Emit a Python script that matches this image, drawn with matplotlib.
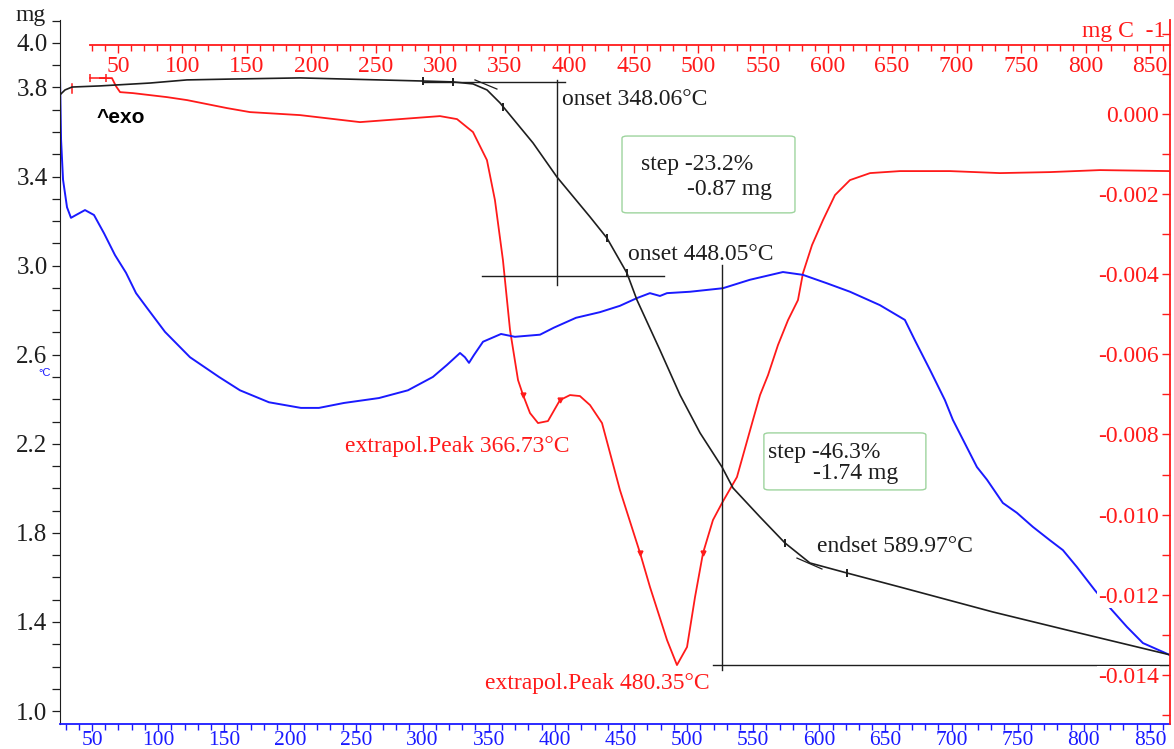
import numpy as np
import matplotlib
matplotlib.use("Agg")
import matplotlib.pyplot as plt
from matplotlib.patches import FancyBboxPatch
from matplotlib.ticker import MultipleLocator, FixedLocator

plt.rcParams['font.family'] = ['Liberation Serif', 'DejaVu Serif']

# TG curve: temperature (C) vs mass (mg)
tg_temp = [25.8, 29.6, 34.9, 56.0, 93.9, 121.8, 156.6, 207.3, 300.3, 323.0, 338.1,
           348.7, 358.5, 383.5, 401.6, 426.6, 439.4, 454.5, 462.1, 479.5, 494.7,
           509.8, 526.4, 534.7, 555.1, 574.0, 592.9, 620.9, 661.0, 731.3, 787.2, 865.5]
tg_mass = [3.767, 3.789, 3.802, 3.807, 3.820, 3.834, 3.838, 3.843, 3.829, 3.825, 3.816,
           3.789, 3.731, 3.551, 3.398, 3.219, 3.124, 2.967, 2.846, 2.621, 2.419,
           2.249, 2.096, 2.002, 1.872, 1.755, 1.665, 1.620, 1.557, 1.445, 1.364, 1.252]
tg_marks = [300.3, 323.0, 361.0, 439.4, 454.5, 574.0, 620.9]

# DTG curve: temperature (C) vs mg/C
dtg_temp = [36.0, 45.3, 48.4, 51.6, 61.6, 88.0, 103.5, 134.5, 152.3, 191.1, 237.6,
            268.6, 299.6, 312.8, 325.2, 336.0, 342.2, 348.4, 353.9, 360.1, 364.0,
            369.4, 375.6, 383.3, 392.6, 400.4, 408.1, 415.9, 425.2, 439.1, 454.7,
            462.4, 475.6, 483.3, 491.1, 497.3, 503.5, 511.2, 518.2, 529.8, 542.2,
            547.7, 553.9, 561.6, 569.4, 577.1, 581.0, 588.0, 596.5, 605.8, 617.4,
            633.0, 656.2, 695.0, 733.7, 772.5, 811.2, 865.5]
dtg_rate = [0.000899, 0.000899, 0.000699, 0.000549, 0.000524, 0.000424, 0.000350,
            0.000150, 0.000050, -0.000025, -0.000200, -0.000125, -0.000050,
            -0.000125, -0.000449, -0.001149, -0.002147, -0.003645, -0.005393,
            -0.006642, -0.007016, -0.007466, -0.007715, -0.007665, -0.007141,
            -0.007016, -0.007041, -0.007266, -0.007715, -0.009388, -0.010961,
            -0.011810, -0.013134, -0.013758, -0.013308, -0.012060, -0.010961,
            -0.010137, -0.009713, -0.009064, -0.007640, -0.007016, -0.006517,
            -0.005768, -0.005144, -0.004644, -0.003970, -0.003271, -0.002647,
            -0.002022, -0.001648, -0.001473, -0.001423, -0.001423, -0.001473,
            -0.001448, -0.001398, -0.001423]
dtg_marks = [364.0, 392.6, 454.7, 503.5]

# DTA signal (relative units)
dta_temp = [25.8, 26.6, 28.1, 31.1, 34.1, 37.9, 44.7, 51.5, 59.1, 67.4, 75.7, 83.3,
            91.6, 105.2, 124.1, 146.0, 161.9, 183.8, 208.0, 221.6, 240.5, 267.0,
            288.9, 307.8, 318.4, 328.3, 332.0, 335.1, 338.8, 345.7, 359.3, 369.8,
            388.8, 399.3, 416.0, 434.1, 449.2, 462.1, 471.9, 479.5, 484.8, 502.2,
            527.1, 547.5, 572.5, 587.6, 605.8, 623.2, 645.8, 664.7, 672.3, 683.7,
            695.0, 701.0, 719.2, 726.8, 738.8, 749.4, 761.5, 774.4, 784.2, 794.8,
            808.4, 816.0, 832.6, 844.7, 865.1]
dta_sig = [92.2, 83.0, 77.3, 73.4, 71.9, 72.3, 73.0, 72.3, 69.7, 66.6, 64.1, 61.2,
           59.1, 55.7, 52.1, 49.3, 47.4, 45.7, 44.9, 44.9, 45.6, 46.3,
           47.4, 49.3, 51.0, 52.7, 52.1, 51.3, 52.4, 54.3, 55.4, 55.0,
           55.3, 56.3, 57.7, 58.5, 59.4, 60.5, 61.2, 60.8, 61.2, 61.4,
           61.9, 63.1, 64.2, 63.8, 62.6, 61.4, 59.5, 57.4, 54.5, 50.3,
           46.0, 43.2, 36.5, 34.7, 31.4, 30.0, 28.0, 26.1, 24.7, 22.3,
           19.0, 17.3, 13.8, 11.5, 9.8]

left_ticks = [4.0, 3.8, 3.4, 3.0, 2.6, 2.2, 1.8, 1.4, 1.0]
right_ticks = [0.002, 0.000, -0.002, -0.004, -0.006, -0.008, -0.010, -0.012, -0.014]

RED = '#ff1a1a'
BLUE = '#1a1aff'
BLACK = '#1e1e1e'
FS = 17

W, H = 1174, 749
fig = plt.figure(figsize=(W / 100, H / 100), dpi=100)
x0, x1, yb, yt = 60, 1170, 724, 20
rect = [x0 / W, (H - yb) / H, (x1 - x0) / W, (yb - yt) / H]

# DTG on its own temperature scale (top red axis)
ax_dtg = fig.add_axes(rect, frameon=False)
ax_dtg.set_xlim(5.04, 865.5)
ax_dtg.set_ylim(-0.01523, 0.00235)
ax_dtg.set_xticks([])
ax_dtg.set_yticks([])
ax_dtg.plot(dtg_temp, dtg_rate, color=RED, lw=1.3)
ax_dtg.plot(dtg_marks, np.interp(dtg_marks, dtg_temp, dtg_rate), ls='none',
            marker='v', ms=3.5, color=RED)
# bracket marks at the start of the run
ax_dtg.plot([28.0, 40.4], [0.000899, 0.000899], color=RED, lw=1.1,
            marker='|', ms=6, mew=1.1)
ax_dtg.plot([5.0, 5.0], [0.000999, 0.000849], color=RED, lw=1.1)
ax_dtg.plot([5.0, 5.0], [0.000549, 0.000350], color=RED, lw=1.1)
ax_dtg.plot([14.3, 14.3], [0.000749, 0.000524], color=RED, lw=1.1)

# DTA
ax_dta = fig.add_axes(rect, frameon=False)
ax_dta.set_xlim(25.8, 865.2)
ax_dta.set_ylim(0, 100)
ax_dta.set_xticks([])
ax_dta.set_yticks([])
ax_dta.plot(dta_temp, dta_sig, color=BLUE, lw=1.4)

# TG, main axes with bottom and left scales
ax = fig.add_axes(rect, facecolor='none')
ax.set_xlim(25.8, 865.2)
ax.set_ylim(0.942, 4.103)
ax.plot(tg_temp, tg_mass, color=BLACK, lw=1.2)
ax.plot(tg_marks, np.interp(tg_marks, tg_temp, tg_mass), ls='none',
        marker='|', ms=6, mew=1.4, color=BLACK)
# tangents
ax.plot([339.6, 356.2], [3.834, 3.793], color=BLACK, lw=0.9)
ax.plot([583.1, 602.0], [1.687, 1.638], color=BLACK, lw=0.9)
# step evaluation lines
ax.plot([300.3, 407.7], [3.825, 3.825], color=BLACK, lw=1.0)
ax.plot([401.6, 401.6], [3.834, 2.913], color=BLACK, lw=1.0)
ax.plot([344.8, 482.4], [2.954, 2.954], color=BLACK, lw=1.0)
ax.plot([526.4, 526.4], [3.003, 1.185], color=BLACK, lw=1.0)
ax.plot([519.6, 865.2], [1.207, 1.207], color=BLACK, lw=1.0)

for s in ['top', 'right']:
    ax.spines[s].set_visible(False)
ax.spines['left'].set_color(BLACK)
ax.spines['bottom'].set_color(BLUE)
ax.spines['bottom'].set_linewidth(1.3)
ax.xaxis.set_major_locator(MultipleLocator(50))
ax.xaxis.set_minor_locator(MultipleLocator(10))
ax.yaxis.set_major_locator(FixedLocator(left_ticks))
ax.yaxis.set_minor_locator(MultipleLocator(0.1))
ax.tick_params(axis='x', which='major', colors=BLUE, labelsize=15.5, length=5, width=1.0, pad=0)
ax.tick_params(axis='x', which='minor', colors=BLUE, length=4, width=1.0)
ax.tick_params(axis='y', which='both', colors=BLACK, labelsize=FS + 1, length=6, width=0.9, pad=3)
ax.xaxis.set_major_formatter(plt.FuncFormatter(lambda v, p: f'{v:.0f}'))
ax.yaxis.set_major_formatter(plt.FuncFormatter(lambda v, p: f'{v:.1f}'))

# annotations
ax.text(405.4, 3.744, 'onset 348.06°C', fontsize=FS, color=BLACK, va='center')
ax.text(455.3, 3.048, 'onset 448.05°C', fontsize=FS, color=BLACK, va='center')
ax.text(598.2, 1.737, 'endset 589.97°C', fontsize=FS, color=BLACK, va='center')
ax.text(241.3, 2.186, 'extrapol.Peak 366.73°C', fontsize=FS, color=RED, va='center')
ax.text(347.2, 1.126, 'extrapol.Peak 480.35°C', fontsize=FS, color=RED, va='center')
ax.text(53.8, 3.663, '^exo', fontsize=15, color='black', va='center',
        family='Liberation Sans', weight='bold')

boxes = [((450.8, 3.237), 130.8, 0.345, ['step -23.2%', '-0.87 mg'],
          [(465.1, 3.452), (499.9, 3.340)]),
         ((558.1, 1.993), 122.5, 0.256, ['step -46.3%', '-1.74 mg'],
          [(561.2, 2.159), (595.2, 2.065)])]
for (bx, by), bw, bh, lines, pos in boxes:
    ax.add_patch(FancyBboxPatch((bx, by), bw, bh, boxstyle='round,pad=0,rounding_size=4',
                                mutation_aspect=0.0025, facecolor='white',
                                edgecolor='#9ed49e', lw=1.0, zorder=3))
    for txt, (tx, ty) in zip(lines, pos):
        ax.text(tx, ty, txt, fontsize=FS, color=BLACK, va='center', zorder=4)

# top red temperature axis
ax_top = fig.add_axes([90 / W, (H - 45) / H, (1170 - 90) / W, 0.0001])
ax_top.set_xlim(28.3, 865.5)
ax_top.set_yticks([])
for s in ['top', 'left', 'right']:
    ax_top.spines[s].set_visible(False)
ax_top.spines['bottom'].set_color(RED)
ax_top.spines['bottom'].set_linewidth(1.3)
ax_top.xaxis.set_major_locator(MultipleLocator(50))
ax_top.xaxis.set_minor_locator(MultipleLocator(10))
ax_top.tick_params(axis='x', which='major', colors=RED, labelsize=FS, length=6, width=1.0, pad=2)
ax_top.tick_params(axis='x', which='minor', colors=RED, length=4, width=1.0)
ax_top.xaxis.set_major_formatter(plt.FuncFormatter(lambda v, p: f'{v:.0f}' if v >= 50 else ''))

# right red DTG axis
ax_r = fig.add_axes([1170 / W, (H - yb) / H, 0.0001, (yb - yt) / H])
ax_r.set_ylim(-0.01523, 0.00235)
ax_r.set_xticks([])
for s in ['top', 'bottom', 'right']:
    ax_r.spines[s].set_visible(False)
ax_r.spines['left'].set_color(RED)
ax_r.spines['left'].set_linewidth(1.3)
ax_r.yaxis.set_major_locator(FixedLocator(right_ticks))
ax_r.yaxis.set_minor_locator(MultipleLocator(0.001))
ax_r.tick_params(axis='y', which='both', colors=RED, labelsize=FS, length=6, width=1.0, pad=2)
ax_r.yaxis.set_major_formatter(plt.FuncFormatter(
    lambda v, p: '' if v > 0.001 else f'{v:.3f}'.replace('-0.000', '0.000')))
for lab in ax_r.get_yticklabels():
    lab.set_bbox(dict(facecolor='white', edgecolor='none', pad=0.5))

# axis units
fig.text(16 / W, 1 - 16 / H, 'mg', fontsize=FS, color=BLACK, va='center')
fig.text(1165 / W, 1 - 31 / H, 'mg C  -1', fontsize=FS, color=RED, va='center', ha='right')
fig.text(38 / W, 1 - 373 / H, '°C', fontsize=8, color=BLUE, va='center',
         family='Liberation Sans')

fig.savefig('out.png', dpi=100)
